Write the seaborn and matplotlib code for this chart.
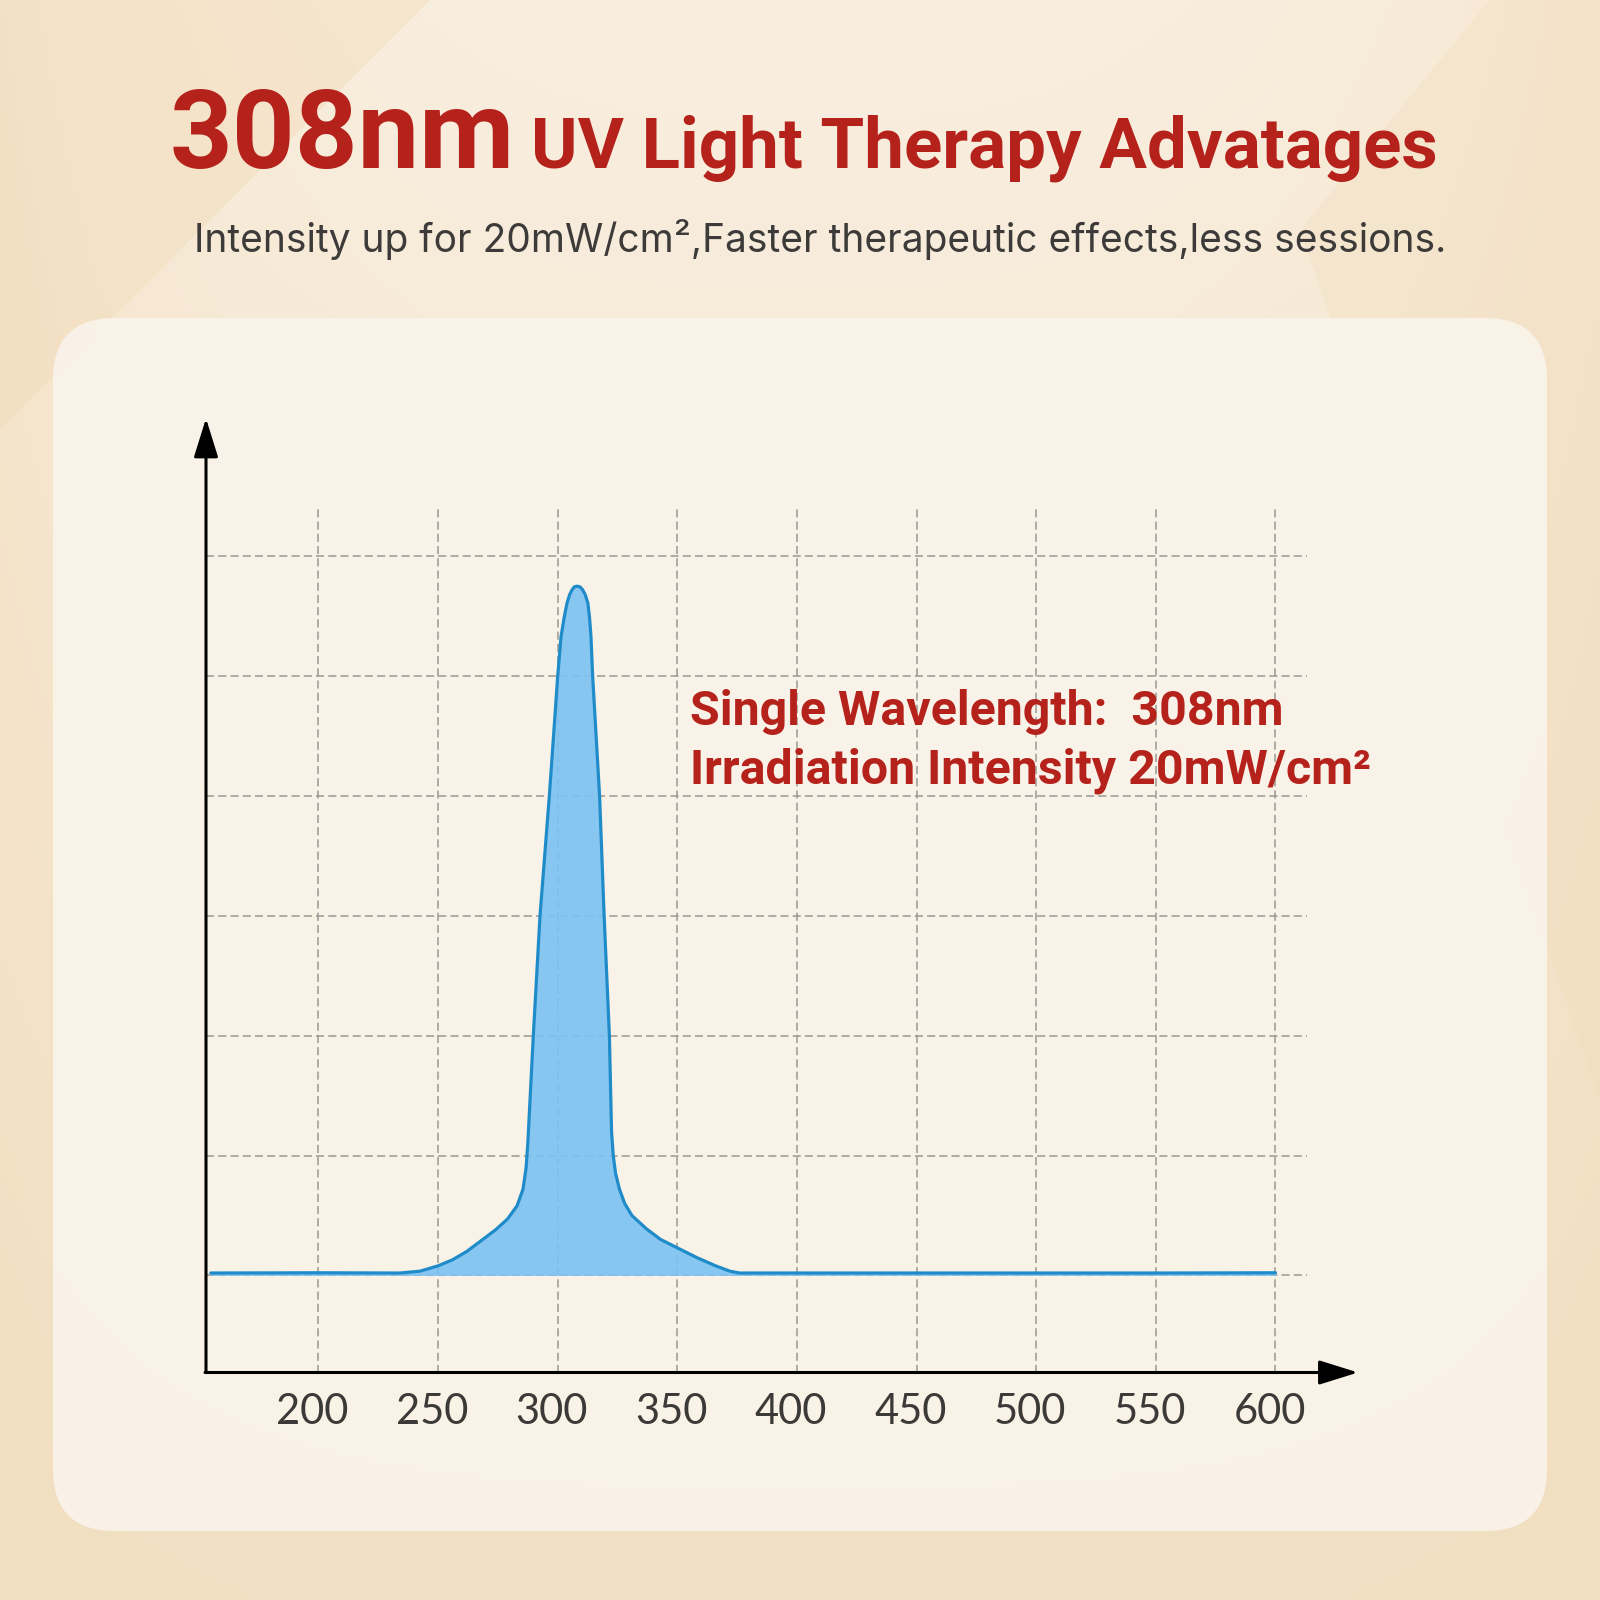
"""Recreate the 308nm UV light therapy spectrum card."""

import matplotlib

matplotlib.use("Agg")

import matplotlib.pyplot as plt  # noqa: E402
import numpy as np  # noqa: E402
import pandas as pd  # noqa: E402
import seaborn as sns  # noqa: E402
from matplotlib.patches import FancyBboxPatch, Polygon  # noqa: E402
from matplotlib.transforms import ScaledTranslation  # noqa: E402

# spectrum (wavelength in nm, intensity in grid units)
WAVELENGTH = [155, 200, 234, 242.4, 250, 256, 262, 268, 274, 279, 283, 285.5,
              286.8, 287.5, 289.8, 292.6, 296.5, 300.0, 301.4, 302.7, 303.9, 305.0,
              306.0, 307.0, 308.1, 309.3, 310.4, 311.5, 312.6, 313.3, 313.9, 314.6,
              317.5, 319.4, 321.6, 322.5, 323.2, 324.2, 325.8, 328, 331, 337, 343,
              350, 358, 366, 372, 376, 400, 450, 500, 550, 600]
INTENSITY = [0.02, 0.022, 0.02, 0.035, 0.08, 0.13, 0.20, 0.29, 0.38, 0.47, 0.58, 0.72,
             0.9, 1.1, 2.0, 3.0, 4.0, 5.0, 5.33, 5.49, 5.61, 5.68,
             5.72, 5.745, 5.75, 5.745, 5.72, 5.68, 5.61, 5.49, 5.33, 5.0,
             4.0, 3.0, 2.0, 1.2, 1.0, 0.85, 0.72, 0.60, 0.50, 0.39, 0.30,
             0.23, 0.15, 0.08, 0.035, 0.02, 0.02, 0.02, 0.02, 0.02, 0.022]
X_TICKS = [200, 250, 300, 350, 400, 450, 500, 550, 600]
GRID_LEVELS = [0, 1, 2, 3, 4, 5, 6]

TITLE_BIG = "308nm"
TITLE_REST = "UV Light Therapy Advatages"
SUBTITLE = "Intensity up for 20mW/cm²,Faster therapeutic effects,less sessions."
NOTE_LINES = ["Single Wavelength:  308nm", "Irradiation Intensity 20mW/cm²"]

RED = "#b5221b"
LINE_BLUE = "#1f8cc9"
FILL_BLUE = "#7cc2f4"
GRID_GREY = "#9b9893"

X_MIN, X_MAX = 153, 639.5
Y_MIN, Y_MAX = -0.81, 7.22


def draw_background(fig):
    bg = fig.add_axes([0, 0, 1, 1])
    bg.set_xlim(0, 1600)
    bg.set_ylim(1600, 0)
    bg.axis("off")

    yy, xx = np.mgrid[0:1:200j, 0:1:200j]
    top = np.array([249, 239, 224]) / 255
    bottom = np.array([241, 224, 196]) / 255
    edge_col = np.array([243, 222, 190]) / 255
    img = top * (1 - yy[..., None]) + bottom * yy[..., None]
    edge = (np.abs(xx - 0.5) * 2) ** 3
    img = img * (1 - 0.5 * edge[..., None]) + edge_col * 0.5 * edge[..., None]
    bg.imshow(img, extent=(0, 1600, 1600, 0), interpolation="bilinear", aspect="auto")

    bg.add_patch(Polygon([(0, 0), (430, 0), (0, 430)], closed=True,
                         fc="#f2d9b6", ec="none", alpha=0.4))
    bg.add_patch(Polygon([(1490, 0), (1600, 0), (1600, 1100), (1300, 230)], closed=True,
                         fc="#f1dcbb", ec="none", alpha=0.3))
    bg.add_patch(FancyBboxPatch((53, 318), 1494, 1213,
                                boxstyle="round,pad=0,rounding_size=62",
                                fc="#faf4eb", ec="none", alpha=0.9))

    bg.text(170, 168, TITLE_BIG, color=RED, fontsize=79, fontweight="bold",
            family="Roboto", va="baseline", ha="left")
    bg.text(531, 168, TITLE_REST, color=RED, fontsize=51, fontweight="bold",
            family="Roboto", va="baseline", ha="left")
    bg.text(194, 252, SUBTITLE, color="#3d3b39", fontsize=28,
            family="Inter", va="baseline", ha="left")
    return bg


def main():
    sns.set_theme(style="white")
    plt.rcParams["font.family"] = ["Roboto", "DejaVu Sans"]

    fig = plt.figure(figsize=(16, 16), dpi=100)
    draw_background(fig)

    ax = fig.add_axes([206 / 1600, 1 - 1372.5 / 1600, (1370 - 206) / 1600,
                       (1372.5 - 410) / 1600])
    ax.patch.set_alpha(0)
    ax.set_xlim(X_MIN, X_MAX)
    ax.set_ylim(Y_MIN, Y_MAX)
    for side in ax.spines.values():
        side.set_visible(False)

    dash = (0, (5.3, 2.7))
    ax.vlines(X_TICKS, Y_MIN, 6.41, colors=GRID_GREY, lw=1.1, linestyles=dash, zorder=1)
    ax.hlines(GRID_LEVELS, X_MIN, 613, colors=GRID_GREY, lw=1.1, linestyles=dash, zorder=1)

    spectrum = pd.DataFrame({"wavelength": WAVELENGTH, "intensity": INTENSITY})
    ax.fill_between(spectrum["wavelength"], spectrum["intensity"], 0,
                    color=FILL_BLUE, alpha=0.9, lw=0, zorder=2)
    line = sns.lineplot(data=spectrum, x="wavelength", y="intensity", ax=ax,
                        color=LINE_BLUE, lw=2.3, sort=False, zorder=3)
    line.lines[-1].set_solid_joinstyle("round")

    arrow = dict(arrowstyle="-|>,head_length=0.8,head_width=0.25", mutation_scale=30,
                 lw=2.2, color="black", shrinkA=0, shrinkB=0)
    ax.annotate("", xy=(X_MIN, 7.15), xytext=(X_MIN, Y_MIN), arrowprops=arrow,
                annotation_clip=False, zorder=4)
    ax.annotate("", xy=(634.5, Y_MIN), xytext=(X_MIN - 0.4, Y_MIN), arrowprops=arrow,
                annotation_clip=False, zorder=4)

    ax.set_xticks(X_TICKS)
    ax.set_xticklabels([str(t) for t in X_TICKS], family="Lato", fontsize=30,
                       color="#3c3a38")
    ax.tick_params(axis="x", length=0, pad=15)
    shift = ScaledTranslation(-6 / 100, 0, fig.dpi_scale_trans)
    for label in ax.get_xticklabels():
        label.set_transform(label.get_transform() + shift)
    ax.set_yticks([])
    ax.set_xlabel("")
    ax.set_ylabel("")

    for i, note in enumerate(NOTE_LINES):
        ax.text((690 - 206) / (1370 - 206), 1 - (725 + 59 * i - 410) / (1372.5 - 410), note,
                transform=ax.transAxes, color=RED, fontsize=34.8, fontweight="bold",
                family="Roboto", va="baseline", ha="left")

    fig.savefig("out.png", dpi=100)
    plt.close(fig)


if __name__ == "__main__":
    main()
